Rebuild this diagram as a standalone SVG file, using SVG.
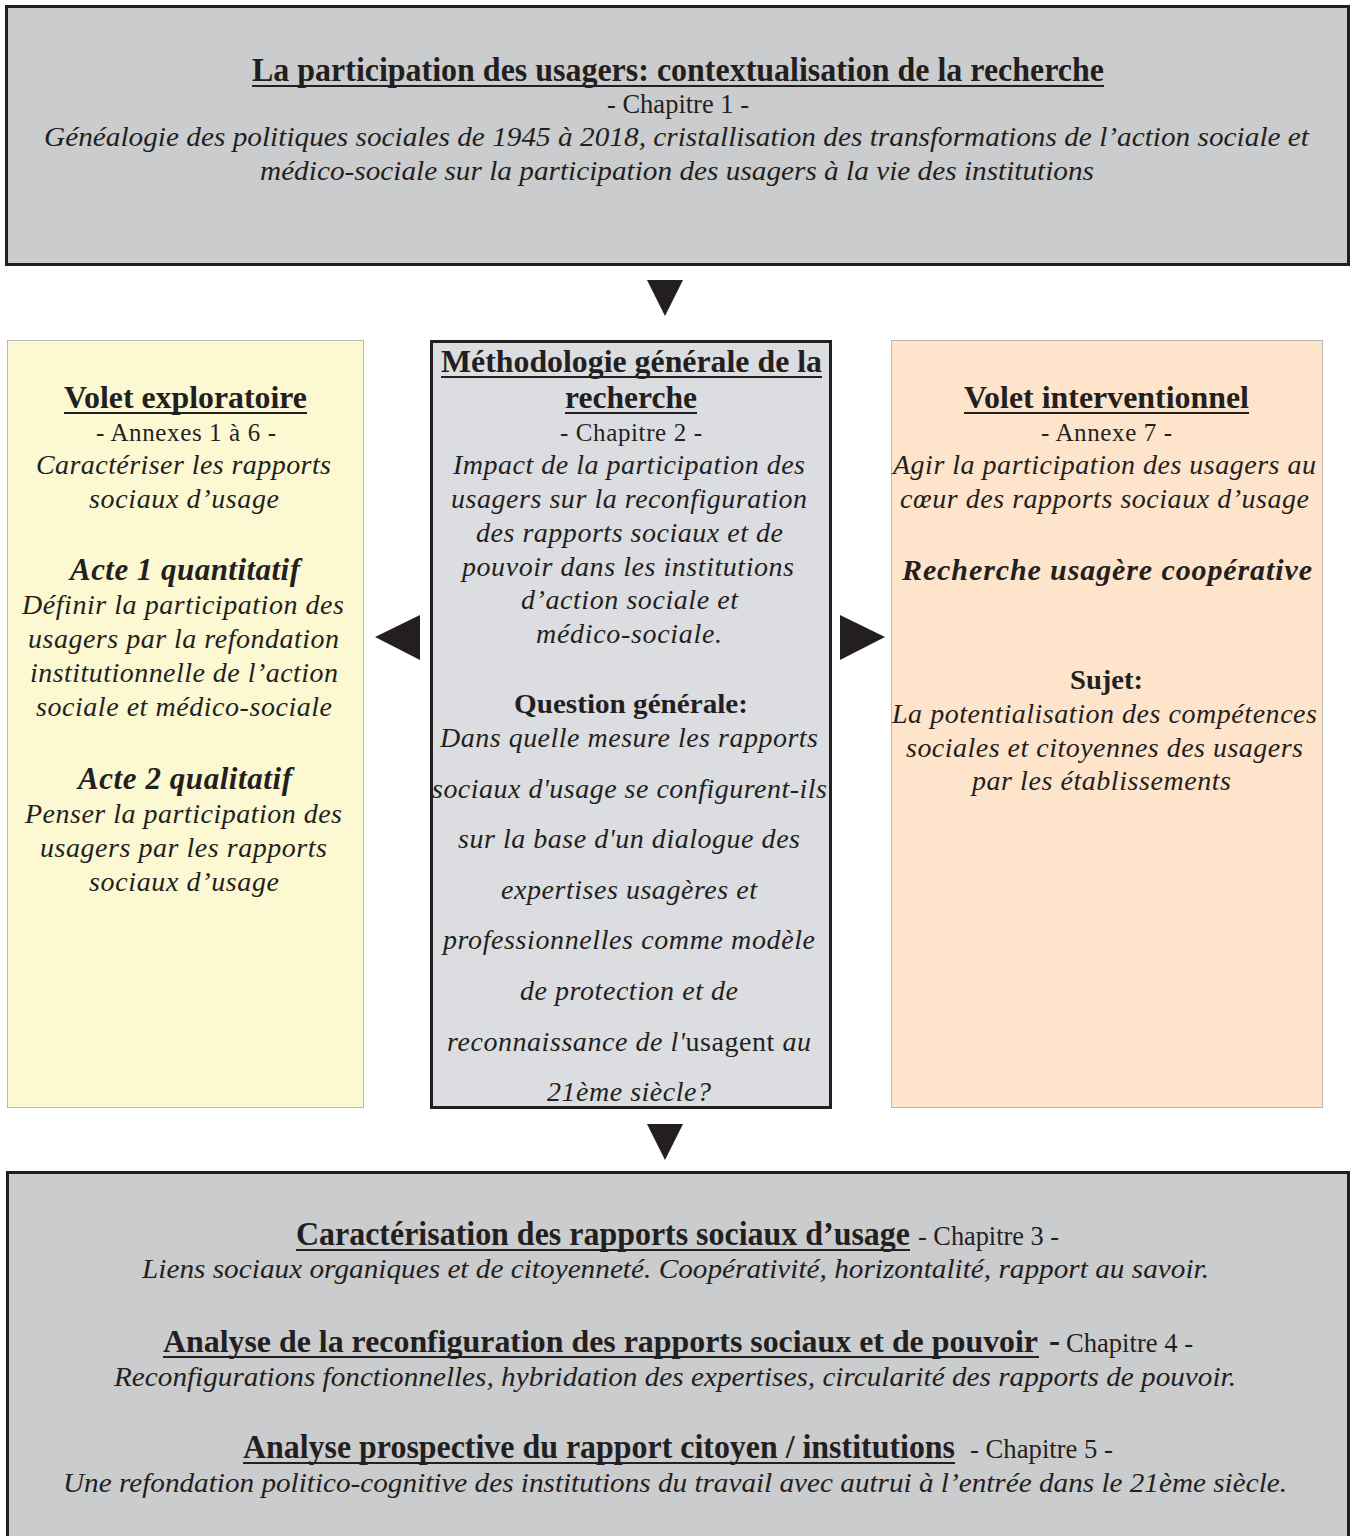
<svg xmlns="http://www.w3.org/2000/svg" width="1354" height="1536" viewBox="0 0 1354 1536">
<style>
text{font-family:"Liberation Serif","Times New Roman",serif;fill:#231f20;text-anchor:start}
.b{font-weight:bold}
.i{font-style:italic}
.bi{font-weight:bold;font-style:italic}
.ul{stroke:#231f20;stroke-width:2}
.thick{stroke:#231f20;stroke-width:3}
.thin{stroke:#b8b8b8;stroke-width:1}
.m{font-size:28px}
.n{font-size:25px}
.h{font-size:31px}
.ti{font-size:28px}
.tn{font-size:27px}
.tb{font-size:33px}
</style>
<rect width="1354" height="1536" fill="#ffffff"/>

<g id="node-contexte">
<rect x="6.5" y="6.5" width="1342" height="258" fill="#cbccce" class="thick"/>
<text x="252" y="81" class="b tb" textLength="852" lengthAdjust="spacingAndGlyphs">La participation des usagers: contextualisation de la recherche</text>
<line x1="252" y1="86" x2="1104" y2="86" class="ul"/>
<text x="607" y="113" class="tn" textLength="142" lengthAdjust="spacingAndGlyphs">- Chapitre 1 -</text>
<text x="44" y="146" class="i ti" textLength="1265" lengthAdjust="spacingAndGlyphs">Généalogie des politiques sociales de 1945 à 2018, cristallisation des transformations de l’action sociale et</text>
<text x="260" y="180" class="i ti" textLength="834" lengthAdjust="spacingAndGlyphs">médico-sociale sur la participation des usagers à la vie des institutions</text>
</g>

<g id="node-exploratoire">
<rect x="7.5" y="340.5" width="356" height="767" fill="#fbf8d2" class="thin"/>
<text x="64" y="408" class="b h" textLength="243" lengthAdjust="spacingAndGlyphs">Volet exploratoire</text>
<line x1="64" y1="413" x2="307" y2="413" class="ul"/>
<text x="96" y="441" class="n" textLength="180" lengthAdjust="spacing">- Annexes 1 à 6 -</text>
<text x="36" y="474" class="i m" textLength="295" lengthAdjust="spacing">Caractériser les rapports</text>
<text x="89" y="508" class="i m" textLength="190" lengthAdjust="spacing">sociaux d’usage</text>
<text x="70" y="580" class="bi h" textLength="230" lengthAdjust="spacing">Acte 1 quantitatif</text>
<text x="22" y="614" class="i m" textLength="322" lengthAdjust="spacing">Définir la participation des</text>
<text x="28" y="648" class="i m" textLength="311" lengthAdjust="spacing">usagers par la refondation</text>
<text x="30" y="682" class="i m" textLength="308" lengthAdjust="spacing">institutionnelle de l’action</text>
<text x="36" y="716" class="i m" textLength="296" lengthAdjust="spacing">sociale et médico-sociale</text>
<text x="78" y="789" class="bi h" textLength="214" lengthAdjust="spacing">Acte 2 qualitatif</text>
<text x="25" y="823" class="i m" textLength="317" lengthAdjust="spacing">Penser la participation des</text>
<text x="40" y="857" class="i m" textLength="287" lengthAdjust="spacing">usagers par les rapports</text>
<text x="89" y="891" class="i m" textLength="190" lengthAdjust="spacing">sociaux d’usage</text>
</g>

<g id="node-methodologie">
<rect x="431.5" y="341.5" width="399" height="766" fill="#dcdde0" class="thick"/>
<text x="441" y="372" class="b h" textLength="381" lengthAdjust="spacingAndGlyphs">Méthodologie générale de la</text>
<line x1="441" y1="377" x2="822" y2="377" class="ul"/>
<text x="565" y="408" class="b h" textLength="132" lengthAdjust="spacingAndGlyphs">recherche</text>
<line x1="565" y1="413" x2="697" y2="413" class="ul"/>
<text x="560" y="441" class="n" textLength="142" lengthAdjust="spacing">- Chapitre 2 -</text>
<text x="453" y="474" class="i m" textLength="352" lengthAdjust="spacing">Impact de la participation des</text>
<text x="451" y="508" class="i m" textLength="356" lengthAdjust="spacing">usagers sur la reconfiguration</text>
<text x="476" y="542" class="i m" textLength="307" lengthAdjust="spacing">des rapports sociaux et de</text>
<text x="462" y="576" class="i m" textLength="332" lengthAdjust="spacing">pouvoir dans les institutions</text>
<text x="521" y="609" class="i m" textLength="217" lengthAdjust="spacing">d’action sociale et</text>
<text x="536" y="643" class="i m" textLength="186" lengthAdjust="spacing">médico-sociale.</text>
<text x="514" y="713" class="b" font-size="28" textLength="234" lengthAdjust="spacingAndGlyphs">Question générale:</text>
<text x="440" y="747" class="i m" textLength="378" lengthAdjust="spacing">Dans quelle mesure les rapports</text>
<text x="432" y="798" class="i m" textLength="395" lengthAdjust="spacing">sociaux d'usage se configurent-ils</text>
<text x="458" y="848" class="i m" textLength="342" lengthAdjust="spacing">sur la base d'un dialogue des</text>
<text x="501" y="899" class="i m" textLength="256" lengthAdjust="spacing">expertises usagères et</text>
<text x="443" y="949" class="i m" textLength="372" lengthAdjust="spacing">professionnelles comme modèle</text>
<text x="520" y="1000" class="i m" textLength="218" lengthAdjust="spacing">de protection et de</text>
<text x="447" y="1051" class="i m" textLength="364" lengthAdjust="spacing">reconnaissance de l'<tspan font-style="normal">usagent</tspan> au</text>
<text x="547" y="1101" class="i m" textLength="164" lengthAdjust="spacing">21ème siècle?</text>
</g>

<g id="node-interventionnel">
<rect x="891.5" y="340.5" width="431" height="767" fill="#fde4ca" class="thin"/>
<text x="964" y="408" class="b h" textLength="285" lengthAdjust="spacingAndGlyphs">Volet interventionnel</text>
<line x1="964" y1="413" x2="1249" y2="413" class="ul"/>
<text x="1041" y="441" class="n" textLength="131" lengthAdjust="spacing">- Annexe 7 -</text>
<text x="893" y="474" class="i m" textLength="423" lengthAdjust="spacing">Agir la participation des usagers au</text>
<text x="900" y="508" class="i m" textLength="409" lengthAdjust="spacing">cœur des rapports sociaux d’usage</text>
<text x="902" y="580" class="bi" font-size="30" textLength="410" lengthAdjust="spacing">Recherche usagère coopérative</text>
<text x="1070" y="689" class="b" font-size="28" textLength="73" lengthAdjust="spacingAndGlyphs">Sujet:</text>
<text x="892" y="723" class="i m" textLength="425" lengthAdjust="spacing">La potentialisation des compétences</text>
<text x="906" y="757" class="i m" textLength="397" lengthAdjust="spacing">sociales et citoyennes des usagers</text>
<text x="972" y="790" class="i m" textLength="259" lengthAdjust="spacing">par les établissements</text>
</g>

<g id="node-analyse">
<rect x="7.5" y="1172.5" width="1341" height="400" fill="#cbccce" class="thick"/>
<text x="296" y="1245" class="b tb" textLength="614" lengthAdjust="spacingAndGlyphs">Caractérisation des rapports sociaux d’usage</text>
<line x1="296" y1="1250" x2="910" y2="1250" class="ul"/>
<text x="918" y="1245" class="tn" textLength="141" lengthAdjust="spacingAndGlyphs">- Chapitre 3 -</text>
<text x="142" y="1278" class="i ti" textLength="1067" lengthAdjust="spacingAndGlyphs">Liens sociaux organiques et de citoyenneté. Coopérativité, horizontalité, rapport au savoir.</text>
<text x="163" y="1352" class="b" font-size="31" textLength="875" lengthAdjust="spacingAndGlyphs">Analyse de la reconfiguration des rapports sociaux et de pouvoir</text>
<line x1="163" y1="1357" x2="1039" y2="1357" class="ul"/>
<text x="1049" y="1352" class="b tb">-</text>
<text x="1066" y="1352" class="tn" textLength="127" lengthAdjust="spacingAndGlyphs">Chapitre 4 -</text>
<text x="114" y="1386" class="i ti" textLength="1122" lengthAdjust="spacingAndGlyphs">Reconfigurations fonctionnelles, hybridation des expertises, circularité des rapports de pouvoir.</text>
<text x="243" y="1458" class="b tb" textLength="712" lengthAdjust="spacingAndGlyphs">Analyse prospective du rapport citoyen / institutions</text>
<line x1="243" y1="1463" x2="955" y2="1463" class="ul"/>
<text x="970" y="1458" class="tn" textLength="143" lengthAdjust="spacingAndGlyphs">- Chapitre 5 -</text>
<text x="63" y="1492" class="i ti" textLength="1224" lengthAdjust="spacingAndGlyphs">Une refondation politico-cognitive des institutions du travail avec autrui à l’entrée dans le 21ème siècle.</text>
</g>

<g id="connectors" fill="#231f20">
<polygon points="647,280 683,280 665,316"/>
<polygon points="420,615 420,660 375,637"/>
<polygon points="840,615 840,660 885,637"/>
<polygon points="647,1124 683,1124 665,1160"/>
</g>
</svg>
